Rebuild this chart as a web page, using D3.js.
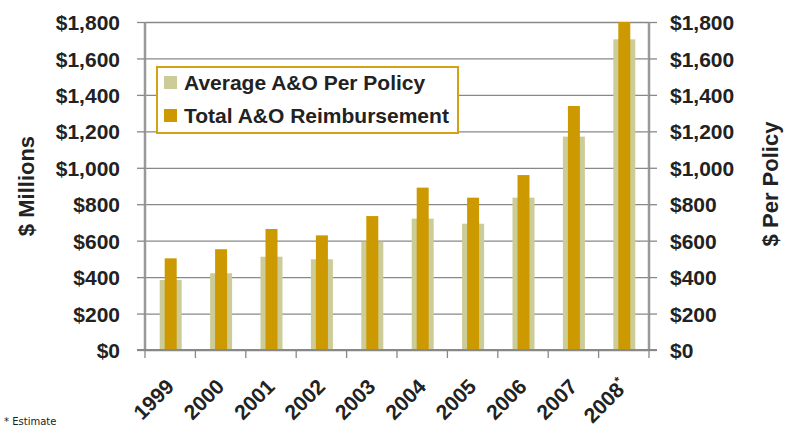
<!DOCTYPE html>
<html>
<head>
<meta charset="utf-8">
<script src="https://cdn.jsdelivr.net/npm/d3@7"></script>
<style>
body{margin:0;background:#fff;}
svg{display:block;font-family:"Liberation Sans",Arial,sans-serif;}
.tick text{font-weight:bold;fill:#222;}
</style>
</head>
<body>
<svg id="chart" width="785" height="428"></svg>
<script>
// data
var years=["1999","2000","2001","2002","2003","2004","2005","2006","2007","2008*"];
var avgPerPolicy=[384,421,512,498,594,721,693,836,1171,1705];
var totalReimb=[503,553,664,629,735,891,836,960,1339,1800];
var tickVals=[0,200,400,600,800,1000,1200,1400,1600,1800];
var seriesNames=["Average A&O Per Policy","Total A&O Reimbursement"];

var lightCol="#cccc99", goldCol="#cc9900";
var pL=145, pR=649, pT=22, pB=350;

var svg=d3.select("#chart");
var x=d3.scaleBand().domain(years).range([pL,pR]);
var y=d3.scaleLinear().domain([0,1800]).range([pB,pT]);
var y2=d3.scaleLinear().domain([0,1800]).range([pB,pT]);
var fmt=function(d){return "$"+d3.format(",")(d);};

// gridlines
svg.append("g")
  .attr("transform","translate("+pL+",0)")
  .call(d3.axisLeft(y).tickValues(tickVals).tickSize(-(pR-pL)).tickFormat(""))
  .call(function(g){
    g.select(".domain").remove();
    g.selectAll("line").attr("stroke","#888").attr("stroke-width",1.3);
  });

// bars: light behind, gold in front
var bw1=22, bw2=12;
svg.append("g").selectAll("rect").data(years).enter().append("rect")
  .attr("x",function(d){return x(d)+x.bandwidth()/2-bw1/2+0.5;})
  .attr("width",bw1)
  .attr("y",function(d,i){return y(avgPerPolicy[i]);})
  .attr("height",function(d,i){return pB-y(avgPerPolicy[i]);})
  .attr("fill",lightCol);
svg.append("g").selectAll("rect").data(years).enter().append("rect")
  .attr("x",function(d){return x(d)+x.bandwidth()/2-bw2/2+0.5;})
  .attr("width",bw2)
  .attr("y",function(d,i){return y(totalReimb[i]);})
  .attr("height",function(d,i){return pB-y(totalReimb[i]);})
  .attr("fill",goldCol);

// left axis
svg.append("g")
  .attr("transform","translate("+pL+",0)")
  .call(d3.axisLeft(y).tickValues(tickVals).tickSize(8).tickPadding(17).tickFormat(fmt))
  .call(function(g){
    g.select(".domain").attr("stroke","#999").attr("stroke-width",2.5).attr("d","M0,"+pT+"V"+pB);
    g.selectAll("line").attr("stroke","#888").attr("stroke-width",1.3);
    g.selectAll("text").attr("font-size",21).attr("dy","0.36em");
  });

// right axis
svg.append("g")
  .attr("transform","translate("+pR+",0)")
  .call(d3.axisRight(y2).tickValues(tickVals).tickSize(8).tickPadding(13).tickFormat(fmt))
  .call(function(g){
    g.select(".domain").attr("stroke","#999").attr("stroke-width",2.5).attr("d","M0,"+pT+"V"+pB);
    g.selectAll("line").attr("stroke","#888").attr("stroke-width",1.3);
    g.selectAll("text").attr("font-size",21).attr("dy","0.36em");
  });

// bottom axis
svg.append("g")
  .attr("transform","translate(0,"+pB+")")
  .call(d3.axisBottom(x).tickSize(0).tickPadding(0))
  .call(function(g){
    g.select(".domain").attr("stroke","#888").attr("stroke-width",2).attr("d","M"+(pL-8)+",0H"+(pR+8));
    g.selectAll("text")
      .attr("font-size",21)
      .attr("text-anchor","end")
      .attr("y",0).attr("dy","0")
      .attr("transform","translate(5,38) rotate(-45)")
      .each(function(d){
        // small raised asterisk like the original
        if (d.indexOf("*")>-1){
          var t=d3.select(this).text("");
          t.append("tspan").text(d.replace("*",""));
          t.append("tspan").attr("font-size",12).attr("dy",-9).text("*");
        }
      });
  });
// category separators under the axis
svg.append("g").selectAll("line").data(d3.range(years.length+1)).enter().append("line")
  .attr("x1",function(i){return pL+i*x.bandwidth();})
  .attr("x2",function(i){return pL+i*x.bandwidth();})
  .attr("y1",pB).attr("y2",pB+8)
  .attr("stroke","#888").attr("stroke-width",1.3);

// axis titles
svg.append("text")
  .attr("transform","translate(34,186) rotate(-90)")
  .attr("text-anchor","middle")
  .attr("font-size",22).attr("font-weight","bold").attr("fill","#222")
  .text("$ Millions");
svg.append("text")
  .attr("transform","translate(778,184) rotate(-90)")
  .attr("text-anchor","middle")
  .attr("font-size",22).attr("font-weight","bold").attr("fill","#222")
  .text("$ Per Policy");

// legend
var lg=svg.append("g");
lg.append("rect").attr("x",157).attr("y",67).attr("width",301).attr("height",66)
  .attr("fill","#fff").attr("stroke","#d4a017").attr("stroke-width",2);
[lightCol,goldCol].forEach(function(c,i){
  lg.append("rect").attr("x",164).attr("y",76+i*33).attr("width",13).attr("height",13).attr("fill",c);
  lg.append("text").attr("x",184).attr("y",90+i*33)
    .attr("font-size",21).attr("font-weight","bold").attr("fill","#222")
    .text(seriesNames[i]);
});

// footnote
svg.append("text").attr("x",4).attr("y",425)
  .attr("font-family","DejaVu Sans").attr("font-size",10).attr("fill","#222").text("* Estimate");
</script>
</body>
</html>
